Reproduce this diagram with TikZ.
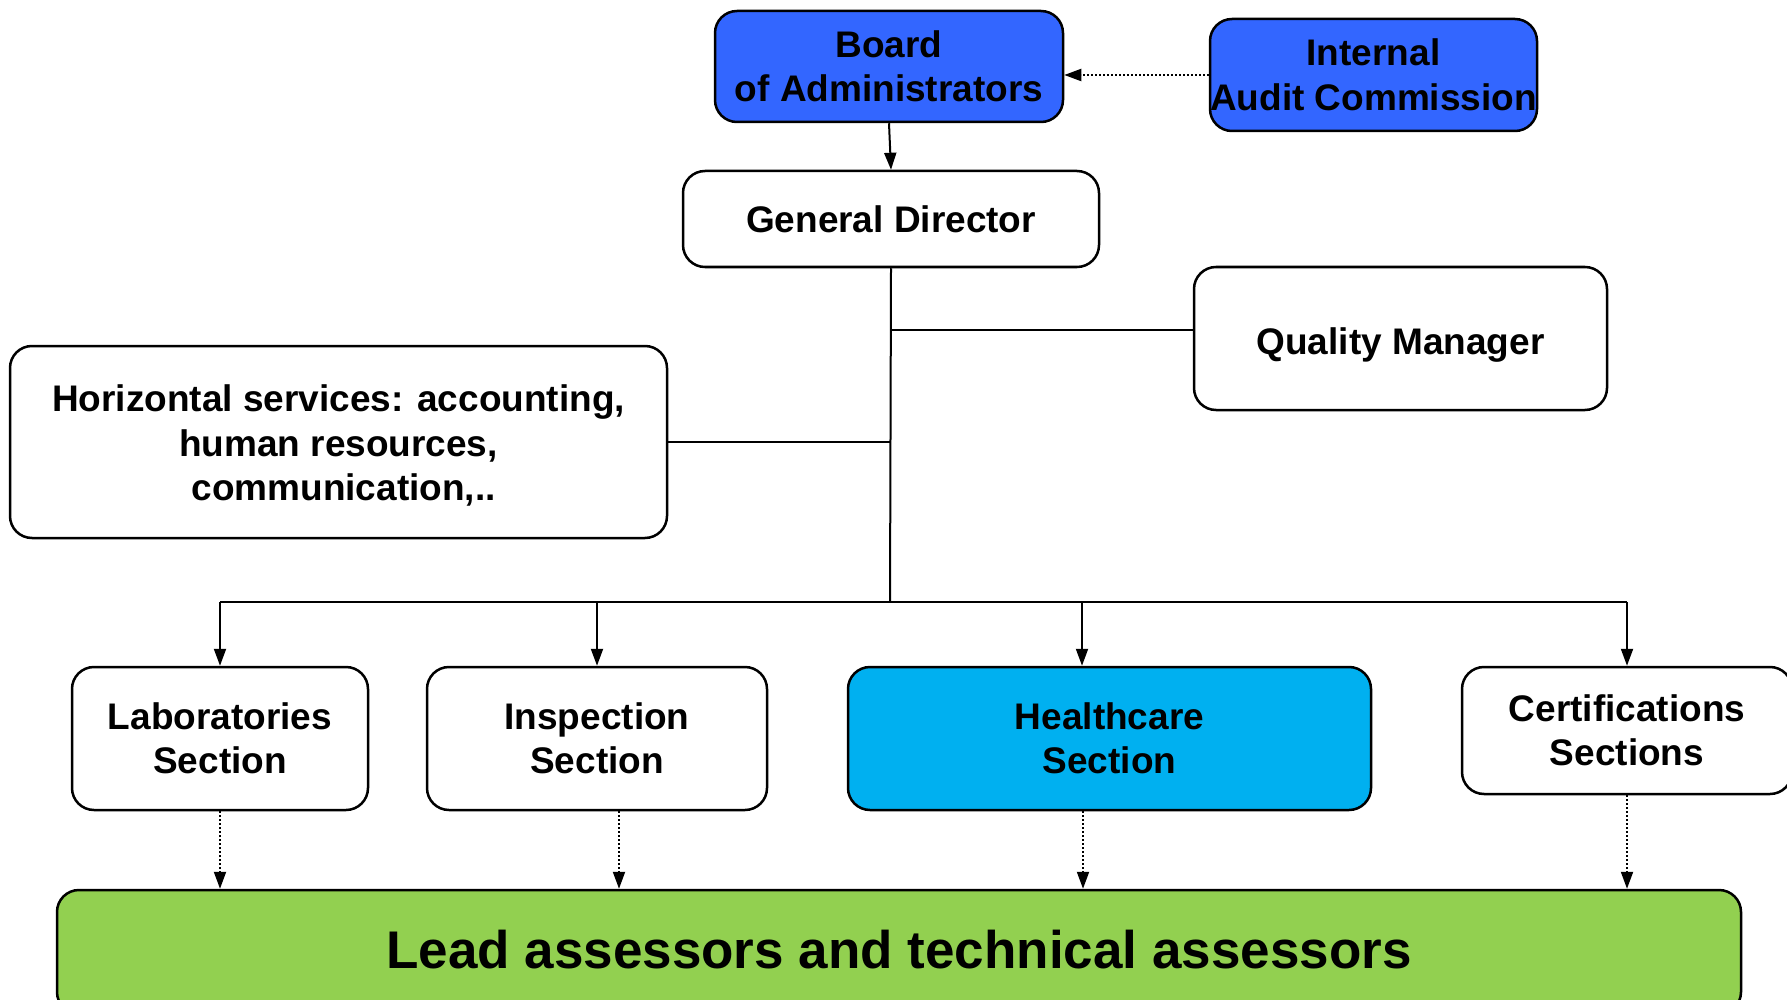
\documentclass[tikz,border=0pt]{standalone}
\usepackage{fontspec}
\setmainfont{Liberation Sans}
\usetikzlibrary{arrows.meta}
\definecolor{boardblue}{HTML}{3366FF}
\definecolor{healthblue}{HTML}{00B0F0}
\definecolor{leadgreen}{HTML}{92D050}
\tikzset{
  box/.style={draw=black, line width=2.5pt, rounded corners=22pt, align=center,
    inner sep=0pt, font=\bfseries\fontsize{37}{44.5}\selectfont, text=black},
  conn/.style={draw=black, line width=2pt},
  arr/.style={conn, -{Triangle[length=17pt,width=12pt]}},
  dotarr/.style={draw=black, line width=2pt, dash pattern=on 2pt off 2pt,
    -{Triangle[length=17pt,width=12pt]}},
}
\begin{document}
\begin{tikzpicture}[x=1pt,y=-1pt]
\path[use as bounding box] (0,0) rectangle (1787,1000);
\clip (0,0) rectangle (1787,1000);

\node[box, fill=boardblue, minimum width=348pt, minimum height=111pt] (board) at (889,66.5) {Board\\of Administrators};
\node[box, fill=boardblue, minimum width=327pt, minimum height=112pt] (audit) at (1373.5,75) {Internal\\Audit Commission};
\node[box, fill=white, minimum width=416pt, minimum height=96pt] (gd) at (891,219) {General Director};
\node[box, fill=white, minimum width=413pt, minimum height=143pt, text height=40pt, text depth=8pt] (qm) at (1400.5,338.5) {Quality Manager};
\node[box, fill=white, minimum width=657pt, minimum height=192pt] (hs) at (338.5,442) {\rule{0pt}{34pt}Horizontal services: accounting,\\human resources,\\\ communication,..};

\node[box, fill=white, minimum width=296pt, minimum height=143pt] (lab) at (220,738.5) {Laboratories\\Section};
\node[box, fill=white, minimum width=340pt, minimum height=143pt] (insp) at (597,738.5) {Inspection\\Section};
\node[box, fill=healthblue, minimum width=523pt, minimum height=143pt] (health) at (1109.5,738.5) {Healthcare\\Section};
\node[box, fill=white, minimum width=330pt, minimum height=127pt] (cert) at (1627,730.5) {Certifications\\Sections};

\node[box, fill=leadgreen, minimum width=1684pt, minimum height=124pt, text height=32pt, text depth=0pt, font=\bfseries\fontsize{53}{60}\selectfont] (lead) at (899,952) {Lead assessors and technical assessors};

% coordinates for the tree
\coordinate (qmj) at (890,330);
\coordinate (hsj) at (890,442);
\coordinate (busc) at (890,602);
\coordinate (busl) at (220,602);
\coordinate (busi) at (597,602);
\coordinate (bush) at (1082,602);
\coordinate (busr) at (1627,602);
\coordinate (hdx) at (1083,0);
\coordinate (idx) at (619,0);

\draw[arr] (board.south) -- (gd.north);
\draw[dotarr] (audit.west) -- (board.east |- audit.west);

\draw[conn] (gd.south) -- (busc);
\draw[conn] (qmj) -- (qmj -| qm.west);
\draw[conn] (hsj -| hs.east) -- (hsj);
\draw[conn] (busl) -- (busr);

\draw[arr] (busl) -- (lab.north);
\draw[arr] (busi) -- (insp.north);
\draw[arr] (bush) -- (bush |- health.north);
\draw[arr] (busr) -- (cert.north);

\draw[dotarr] (lab.south) -- (lab.south |- lead.north);
\draw[dotarr] (idx |- insp.south) -- (idx |- lead.north);
\draw[dotarr] (hdx |- health.south) -- (hdx |- lead.north);
\draw[dotarr] (cert.south) -- (cert.south |- lead.north);
\end{tikzpicture}
\end{document}
